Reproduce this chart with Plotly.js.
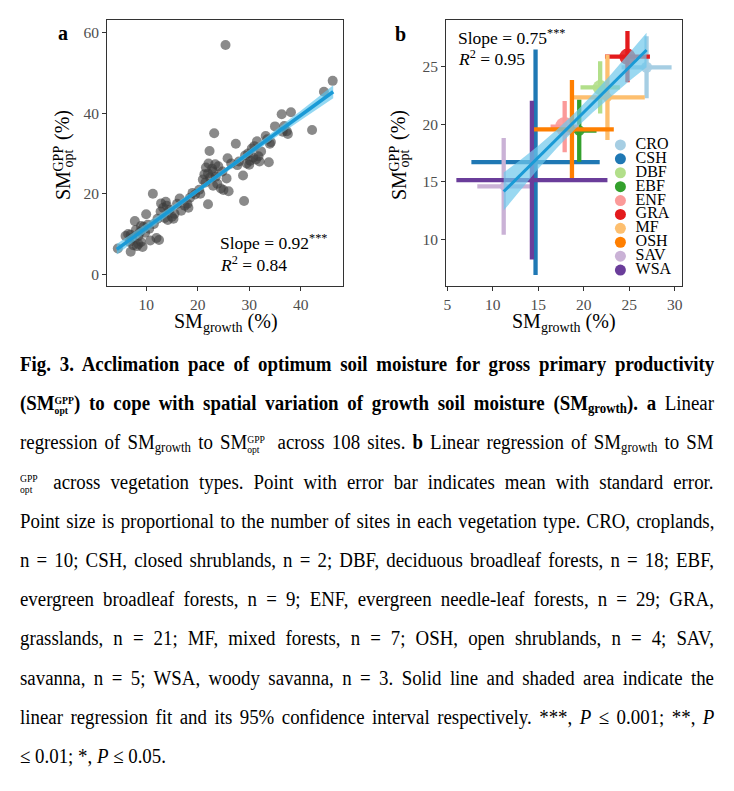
<!DOCTYPE html>
<html><head><meta charset="utf-8">
<script src="https://cdn.plot.ly/plotly-3.0.1.min.js"></script>
<style>
html,body{margin:0;padding:0;background:#fff;}
#chart{position:absolute;left:0;top:0;width:734px;height:791px;}
#cap{position:absolute;left:20px;top:345px;font-family:"Liberation Serif","Times New Roman",serif;font-size:20.5px;line-height:39.2px;color:#000;transform-origin:0 0;}
.ln{white-space:nowrap;height:39.2px;}
.ln > span.in{display:inline-block;transform-origin:0 50%;}
.ss{display:inline-block;vertical-align:-4px;line-height:10.5px;font-size:10.5px;text-align:left;}
.ss span{display:block;}
.sb{font-size:0.68em;vertical-align:-0.25em;line-height:0;}
</style></head>
<body>
<div id="chart"></div>
<div id="cap">
<div class="ln"><span class="in"><b>Fig. 3. Acclimation pace of optimum soil moisture for gross primary productivity</b></span></div>
<div class="ln"><span class="in"><b>(SM<span class="ss"><span>GPP</span><span>opt</span></span>) to cope with spatial variation of growth soil moisture (SM<span class="sb">growth</span>). a</b> Linear</span></div>
<div class="ln"><span class="in">regression of SM<span class="sb">growth</span> to SM<span class="ss" style="margin-right:6px"><span>GPP</span><span>opt</span></span> across 108 sites. <b>b</b> Linear regression of SM<span class="sb">growth</span> to SM</span></div>
<div class="ln"><span class="in"><span class="ss" style="margin-right:6px"><span>GPP</span><span>opt</span></span> across vegetation types. Point with error bar indicates mean with standard error.</span></div>
<div class="ln"><span class="in">Point size is proportional to the number of sites in each vegetation type. CRO, croplands,</span></div>
<div class="ln"><span class="in">n = 10; CSH, closed shrublands, n = 2; DBF, deciduous broadleaf forests, n = 18; EBF,</span></div>
<div class="ln"><span class="in">evergreen broadleaf forests, n = 9; ENF, evergreen needle-leaf forests, n = 29; GRA,</span></div>
<div class="ln"><span class="in">grasslands, n = 21; MF, mixed forests, n = 7; OSH, open shrublands, n = 4; SAV,</span></div>
<div class="ln"><span class="in">savanna, n = 5; WSA, woody savanna, n = 3. Solid line and shaded area indicate the</span></div>
<div class="ln"><span class="in">linear regression fit and its 95% confidence interval respectively. ***, <i>P</i> ≤ 0.001; **, <i>P</i></span></div>
<div class="ln"><span class="in">≤ 0.01; *, <i>P</i> ≤ 0.05.</span></div>
</div>
<script>
// ---------- Panel a: sites ----------
var siteGrowth = [4.5,6.0,6.5,6.8,7.0,7.3,7.5,7.8,8.0,8.2,8.5,8.8,9.0,9.3,9.5,9.8,10.0,10.3,10.6,10.8,
  11.3,11.5,12.0,12.5,12.2,12.8,12.9,13.3,13.6,13.8,14.2,14.5,15.0,15.3,15.5,16.5,16.8,17.5,18.0,18.2,
  19.0,19.5,20.3,20.5,21.0,21.3,21.5,21.6,22.0,22.0,22.1,22.3,22.4,22.8,23.0,23.2,23.4,23.5,23.8,24.0,
  24.5,24.8,25.0,25.4,25.6,25.8,26.0,26.5,27.4,27.7,28.0,28.8,29.0,29.2,29.5,29.8,30.2,30.5,30.8,31.0,
  31.3,31.5,31.8,32.0,32.3,33.2,33.5,33.8,34.0,34.2,35.0,36.3,36.5,36.8,37.3,37.5,38.1,42.2,44.5,46.2,
  7.0,8.5,9.0,14.0,16.0,18.5,23.0,30.0];
var siteOpt = [6.4,9.5,10.0,8.0,5.6,9.0,7.2,13.2,11.0,7.0,9.5,10.5,8.0,6.8,11.8,10.3,14.9,12.3,11.3,8.4,
  20.0,12.5,9.0,8.5,13.8,15.6,17.6,16.5,14.0,18.0,13.5,16.0,14.3,13.8,15.0,18.8,15.8,17.0,17.5,16.5,
  20.2,19.8,21.0,20.0,23.5,24.8,22.8,26.5,25.0,17.4,27.5,30.6,24.0,26.2,22.0,35.0,27.3,24.2,22.5,26.8,
  21.3,25.5,20.9,56.9,23.8,28.8,20.6,27.5,32.4,27.1,28.0,24.5,18.2,29.5,27.5,30.0,28.2,31.2,29.0,31.8,
  28.5,33.0,29.3,28.0,30.5,34.3,33.5,27.8,32.4,32.8,36.7,39.7,35.4,36.8,35.5,34.8,40.2,35.8,45.3,48.0,
  9.8,7.5,12.0,17.0,17.5,19.0,25.5,27.2];
var fitAX  = [4.3, 10, 15, 20, 25, 30, 35, 40, 46.3];
var fitAY  = [6.2, 11.5, 16.1, 20.8, 25.4, 30.1, 34.8, 39.4, 45.3];
var fitALo = [4.9, 10.5, 15.35, 20.2, 24.8, 29.4, 33.9, 38.2, 43.7];
var fitAHi = [7.5, 12.5, 16.85, 21.4, 26.0, 30.8, 35.7, 40.6, 46.9];

// ---------- Panel b: vegetation types ----------
var vegTypes    = ['CRO','CSH','DBF','EBF','ENF','GRA','MF','OSH','SAV','WSA'];
var vegN        = [10, 2, 18, 9, 29, 21, 7, 4, 5, 3];
var vegGrowth   = [26.9, 14.7, 21.8, 19.5, 17.9, 24.8, 22.6, 18.7, 11.2, 14.3];
var vegGrowthSE = [2.75, 7.05, 2.16, 1.9, 1.55, 2.47, 4.1, 4.6, 2.9, 8.3];
var vegOpt      = [24.95, 16.7, 23.2, 19.45, 19.8, 25.87, 22.34, 19.55, 14.6, 15.15];
var vegOptSE    = [2.7, 9.8, 2.27, 2.7, 2.23, 2.23, 3.7, 4.3, 4.2, 6.9];
var vegColors   = ['#a6cee3','#1f78b4','#b2df8a','#33a02c','#fb9a99','#e31a1c','#fdbf6f','#ff7f00','#cab2d6','#6a3d9a'];
var fitBX  = [11.2, 13, 15, 17, 19, 21, 23, 25, 26.9];
var fitBY  = [14.15, 15.56, 17.13, 18.69, 20.26, 21.83, 23.39, 24.96, 26.45];
var fitBLo = [12.5, 14.26, 16.13, 17.89, 19.54, 21.05, 22.44, 23.76, 24.95];
var fitBHi = [15.8, 16.86, 18.13, 19.49, 20.98, 22.61, 24.34, 26.16, 27.95];

var FONT = 'Liberation Serif, Times New Roman, serif';
var W = 734, H = 791;
function px(x){return x/W;}
function py(y){return 1 - y/H;}

var traces = [];
// panel a
traces.push({type:'scatter', mode:'markers', x:siteGrowth, y:siteOpt, xaxis:'x', yaxis:'y',
  marker:{size:10, color:'rgba(60,60,60,0.6)', line:{width:0}}, showlegend:false, hoverinfo:'skip'});
traces.push({type:'scatter', mode:'lines', x:fitAX, y:fitALo, xaxis:'x', yaxis:'y', line:{width:0, color:'rgba(0,0,0,0)'}, showlegend:false, hoverinfo:'skip'});
traces.push({type:'scatter', mode:'lines', x:fitAX, y:fitAHi, xaxis:'x', yaxis:'y', line:{width:0, color:'rgba(0,0,0,0)'}, fill:'tonexty', fillcolor:'rgba(90,195,235,0.65)', showlegend:false, hoverinfo:'skip'});
traces.push({type:'scatter', mode:'lines', x:fitAX, y:fitAY, xaxis:'x', yaxis:'y', line:{width:3.5, color:'#1a9ad6'}, showlegend:false, hoverinfo:'skip'});

// panel b
var sizeRef = 14.5/90.25;
vegTypes.forEach(function(t,i){
  traces.push({type:'scatter', mode:'markers', x:[vegGrowth[i]], y:[vegOpt[i]], xaxis:'x2', yaxis:'y2',
    error_x:{type:'data', array:[vegGrowthSE[i]], color:vegColors[i], thickness:4.3, width:0},
    error_y:{type:'data', array:[vegOptSE[i]], color:vegColors[i], thickness:4.3, width:0},
    marker:{size:[vegN[i]], sizemode:'area', sizeref:sizeRef, color:vegColors[i], opacity:0.9, line:{width:0}},
    showlegend:false, hoverinfo:'skip'});
});
traces.push({type:'scatter', mode:'lines', x:fitBX, y:fitBLo, xaxis:'x2', yaxis:'y2', line:{width:0, color:'rgba(0,0,0,0)'}, showlegend:false, hoverinfo:'skip'});
traces.push({type:'scatter', mode:'lines', x:fitBX, y:fitBHi, xaxis:'x2', yaxis:'y2', line:{width:0, color:'rgba(0,0,0,0)'}, fill:'tonexty', fillcolor:'rgba(110,200,235,0.7)', showlegend:false, hoverinfo:'skip'});
traces.push({type:'scatter', mode:'lines', x:fitBX, y:fitBY, xaxis:'x2', yaxis:'y2', line:{width:3, color:'#1a9ad6'}, showlegend:false, hoverinfo:'skip'});

// legend (own hidden axes)
var legIdx = vegTypes.map(function(t,i){return i;});
traces.push({type:'scatter', mode:'markers', x:vegTypes.map(function(){return 0.8;}), y:legIdx, xaxis:'x3', yaxis:'y3',
  marker:{size:11, color:vegColors}, showlegend:false, hoverinfo:'skip'});
traces.push({type:'scatter', mode:'text', x:vegTypes.map(function(){return 2.7;}), y:legIdx, text:vegTypes, xaxis:'x3', yaxis:'y3',
  textposition:'middle right', textfont:{family:FONT, size:16, color:'#000'}, showlegend:false, hoverinfo:'skip'});

function axisBase(){
  return {showgrid:false, zeroline:false, showline:true, mirror:true, linecolor:'#333', linewidth:1,
    ticks:'outside', ticklen:4, tickwidth:1, tickcolor:'#333',
    tickfont:{family:FONT, size:15.5, color:'#4d4d4d'}, fixedrange:true};
}
var xa = axisBase(); xa.domain=[107/W, 343/W]; xa.range=[2.4, 48.2]; xa.tickvals=[10,20,30,40]; xa.anchor='y';
var ya = axisBase(); ya.domain=[py(286), py(20)]; ya.range=[-2.9, 63.1]; ya.tickvals=[0,20,40,60]; ya.anchor='x';
var xb = axisBase(); xb.domain=[446/W, 681.7/W]; xb.range=[4.86, 30.76]; xb.tickvals=[5,10,15,20,25,30]; xb.anchor='y2';
var yb = axisBase(); yb.domain=[py(286), py(20)]; yb.range=[5.94, 29.06]; yb.tickvals=[10,15,20,25]; yb.anchor='x2';
var x3 = {domain:[614/W, 694/W], range:[0,10], visible:false, fixedrange:true, anchor:'y3'};
var y3 = {domain:[py(277), py(138)], range:[9.5,-0.5], visible:false, fixedrange:true, anchor:'x3'};

var ann = [];
function A(text, x, y, size, opts){
  var o = {text:text, x:px(x), y:py(y), xref:'paper', yref:'paper', showarrow:false,
    xanchor:'center', yanchor:'middle', font:{family:FONT, size:size, color:'#000'}};
  if (opts) for (var k in opts) o[k]=opts[k];
  ann.push(o);
}
// panel letters
A('<b>a</b>', 63, 33, 20);
A('<b>b</b>', 400, 34, 20);
// stats
A('Slope = 0.92<sup>***</sup>', 218, 242, 17.5, {xanchor:'left'});
A('<i>R</i><sup>2</sup> = 0.84', 218, 264, 17.5, {xanchor:'left'});
A('Slope = 0.75<sup>***</sup>', 456, 37, 17.5, {xanchor:'left'});
A('<i>R</i><sup>2</sup> = 0.95', 456, 58, 17.5, {xanchor:'left'});
// x titles
A('SM<sub>growth</sub> (%)', 226, 322, 20);
A('SM<sub>growth</sub> (%)', 564, 322, 20);
// y titles (stacked super/subscript)
[0, 336].forEach(function(dx){
  A('SM', 63+dx, 186, 20, {textangle:-90});
  A('GPP', 57.5+dx, 159, 14, {textangle:-90});
  A('opt', 67.5+dx, 159, 14, {textangle:-90});
  A('(%)', 63+dx, 125, 20, {textangle:-90});
});

var layout = {width:W, height:H, margin:{l:0,r:0,t:0,b:0}, paper_bgcolor:'#fff', plot_bgcolor:'rgba(0,0,0,0)',
  xaxis:xa, yaxis:ya, xaxis2:xb, yaxis2:yb, xaxis3:x3, yaxis3:y3, annotations:ann, showlegend:false,
  font:{family:FONT}};
Plotly.newPlot('chart', traces, layout, {staticPlot:true, displayModeBar:false});

// caption: condensed type, each line justified to the full width
var S = 0.92, TARGET = 694 / S;
var cap = document.getElementById('cap');
cap.style.width = TARGET + 'px';
cap.style.transform = 'scaleX(' + S + ')';
var lines = document.querySelectorAll('#cap .ln');
for (var i=0;i<lines.length;i++){
  var inner = lines[i].firstElementChild;
  if (i === lines.length-1) continue;
  var w = inner.offsetWidth;
  if (w > TARGET) { inner.style.transform = 'scaleX(' + (TARGET/w) + ')'; }
  else {
    var n = (inner.textContent.match(/ /g)||[]).length;
    if (n>0) inner.style.wordSpacing = ((TARGET-w)/n) + 'px';
  }
}
</script>
</body></html>
